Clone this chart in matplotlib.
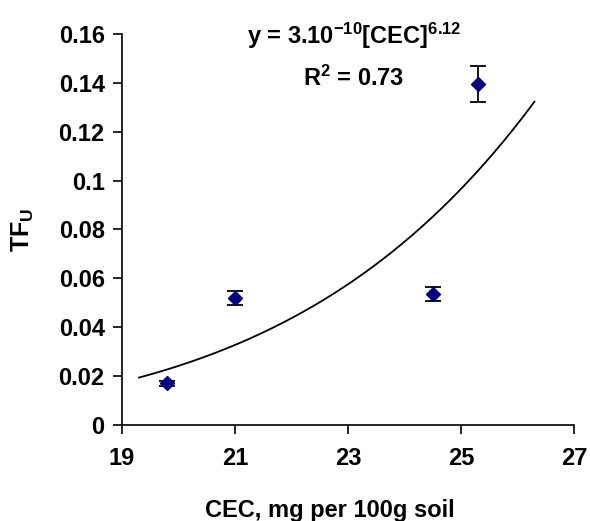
import matplotlib
matplotlib.use("Agg")
import matplotlib.pyplot as plt
import numpy as np

cec = [19.8, 21.0, 24.5, 25.3]
tf_u = [0.017, 0.052, 0.0535, 0.1395]
tf_err = [0.0009, 0.0029, 0.0028, 0.0072]
x_ticks = [19, 21, 23, 25, 27]
y_ticks = [0, 0.02, 0.04, 0.06, 0.08, 0.1, 0.12, 0.14, 0.16]
y_tick_labels = ["0", "0.02", "0.04", "0.06", "0.08", "0.1", "0.12", "0.14", "0.16"]
trend_range = (19.3, 26.3)

plt.rcParams["font.family"] = ["Liberation Sans", "DejaVu Sans"]
plt.rcParams["font.weight"] = "bold"
plt.rcParams["mathtext.fontset"] = "custom"
plt.rcParams["mathtext.rm"] = "Liberation Sans:bold"
plt.rcParams["mathtext.bf"] = "Liberation Sans:bold"
plt.rcParams["mathtext.it"] = "Liberation Sans:bold"
plt.rcParams["mathtext.default"] = "bf"

FS = 17

fig = plt.figure(figsize=(5.9, 5.21), dpi=100)
ax = fig.add_axes([0.2068, 0.1843, 0.7661, 0.7505])

# power-law trendline fitted in log space
b, ln_a = np.polyfit(np.log(cec), np.log(tf_u), 1)
xf = np.linspace(*trend_range, 200)
ax.plot(xf, np.exp(ln_a) * xf ** b, color="black", lw=1.3)

ax.errorbar(cec, tf_u, yerr=tf_err, fmt="D", color="#000080", ms=7.5,
            ecolor="black", elinewidth=1.3, capsize=5.5, capthick=1.3)

ax.set_xlim(19, 27)
ax.set_ylim(0, 0.16)
ax.set_xticks(x_ticks)
ax.set_yticks(y_ticks)
ax.set_yticklabels(y_tick_labels)
ax.tick_params(labelsize=FS, length=6.5, width=1.2, direction="out")
ax.tick_params(axis="x", pad=9)
ax.tick_params(axis="y", pad=6)
for s in ("top", "right"):
    ax.spines[s].set_visible(False)
for s in ("left", "bottom"):
    ax.spines[s].set_linewidth(1.2)

ax.set_xlabel("CEC, mg per 100g soil", fontsize=FS, fontweight="bold")
ax.xaxis.set_label_coords(0.46, -0.19)
ax.set_ylabel(r"TF$_{\mathbf{U}}$", fontsize=FS + 1, fontweight="bold", labelpad=16)

fig.text(0.60, 0.932, r"y = 3.10$^{-10}$[CEC]$^{6.12}$",
         ha="center", va="center", fontsize=FS)
fig.text(0.60, 0.850, r"R$^{2}$ = 0.73",
         ha="center", va="center", fontsize=FS)

fig.savefig("out.png", dpi=100)
